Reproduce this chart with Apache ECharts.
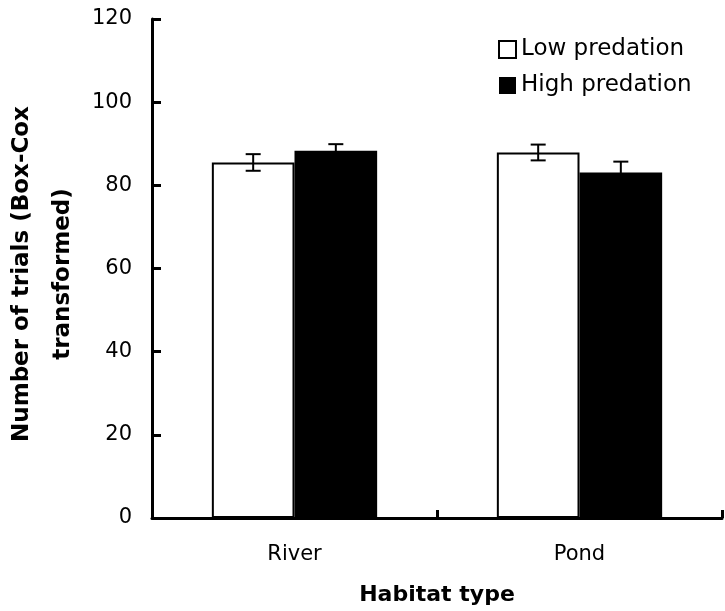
<!DOCTYPE html>
<html>
<head>
<meta charset="utf-8">
<script src="https://cdn.jsdelivr.net/npm/echarts@6/dist/echarts.min.js"></script>
<style>
  html, body { margin: 0; padding: 0; background: #fff; }
  #chart { width: 725px; height: 611px; }
</style>
</head>
<body>
<div id="chart"></div>
<script>
// Habitat categories and group means with standard errors
const habitats = ['River', 'Pond'];
const lowPredation = [85.5, 87.9];
const lowPredationErr = [2.0, 1.9];
const highPredation = [88.3, 83.1];
const highPredationErr = [1.6, 2.6];
const seriesNames = ['Low predation', 'High predation'];

const BAR_FRACTION = 0.29;
const FONT = '"DejaVu Sans", Verdana, sans-serif';

function errorBars(values, errs, side) {
  return {
    type: 'custom',
    silent: true,
    z: 5,
    data: values.map((v, i) => [i, v, errs[i]]),
    renderItem: function (params, api) {
      const idx = api.value(0);
      const v = api.value(1);
      const e = api.value(2);
      const band = api.size([1, 0])[0];
      const offset = side * band * BAR_FRACTION / 2;
      const top = api.coord([idx, v + e]);
      const bot = api.coord([idx, v - e]);
      const x = top[0] + offset;
      const half = 7.5;
      const style = { stroke: '#000', lineWidth: 2, fill: null };
      return {
        type: 'group',
        children: [
          { type: 'line', shape: { x1: x, y1: top[1], x2: x, y2: bot[1] }, style },
          { type: 'line', shape: { x1: x - half, y1: top[1], x2: x + half, y2: top[1] }, style },
          { type: 'line', shape: { x1: x - half, y1: bot[1], x2: x + half, y2: bot[1] }, style }
        ]
      };
    }
  };
}

const chart = echarts.init(document.getElementById('chart'));
chart.setOption({
  animation: false,
  backgroundColor: '#fff',
  textStyle: { fontFamily: FONT, color: '#000' },
  grid: { left: 152, right: 3, top: 19, bottom: 92, containLabel: false },
  legend: {
    orient: 'vertical',
    left: 493,
    top: 33,
    itemWidth: 17,
    itemHeight: 17,
    itemGap: 13,
    icon: 'rect',
    textStyle: { fontFamily: FONT, fontSize: 23, color: '#000' },
    data: [
      { name: seriesNames[0], itemStyle: { color: '#fff', borderColor: '#000', borderWidth: 2 } },
      { name: seriesNames[1], itemStyle: { color: '#000', borderColor: '#000', borderWidth: 0 } }
    ]
  },
  xAxis: {
    type: 'category',
    data: habitats,
    name: 'Habitat type',
    nameLocation: 'middle',
    nameGap: 66,
    nameTextStyle: { fontFamily: FONT, fontSize: 22, fontWeight: 'bold', color: '#000' },
    axisLine: { show: true, lineStyle: { color: '#000', width: 3 } },
    axisTick: { show: true, inside: true, length: 8, lineStyle: { color: '#000', width: 3 } },
    axisLabel: { fontFamily: FONT, fontSize: 21, color: '#000', margin: 26 },
    splitLine: { show: false }
  },
  yAxis: {
    type: 'value',
    min: 0,
    max: 120,
    interval: 20,
    axisLine: { show: true, lineStyle: { color: '#000', width: 3 } },
    axisTick: { show: true, inside: true, length: 9, lineStyle: { color: '#000', width: 3 } },
    axisLabel: { fontFamily: FONT, fontSize: 21, color: '#000', margin: 20 },
    splitLine: { show: false }
  },
  graphic: [
    {
      type: 'text',
      x: 43,
      y: 274,
      rotation: Math.PI / 2,
      style: {
        text: 'Number of trials (Box-Cox\ntransformed)',
        fontFamily: FONT,
        fontSize: 23,
        fontWeight: 'bold',
        fill: '#000',
        align: 'center',
        verticalAlign: 'middle',
        lineHeight: 41
      }
    }
  ],
  series: [
    {
      name: seriesNames[0],
      type: 'bar',
      data: lowPredation,
      barWidth: (BAR_FRACTION * 100) + '%',
      barGap: '0%',
      itemStyle: { color: '#fff', borderColor: '#000', borderWidth: 2 }
    },
    {
      name: seriesNames[1],
      type: 'bar',
      data: highPredation,
      barWidth: (BAR_FRACTION * 100) + '%',
      barGap: '0%',
      itemStyle: { color: '#000', borderColor: '#000', borderWidth: 0 }
    },
    errorBars(lowPredation, lowPredationErr, -1),
    errorBars(highPredation, highPredationErr, 1)
  ]
});
</script>
</body>
</html>
